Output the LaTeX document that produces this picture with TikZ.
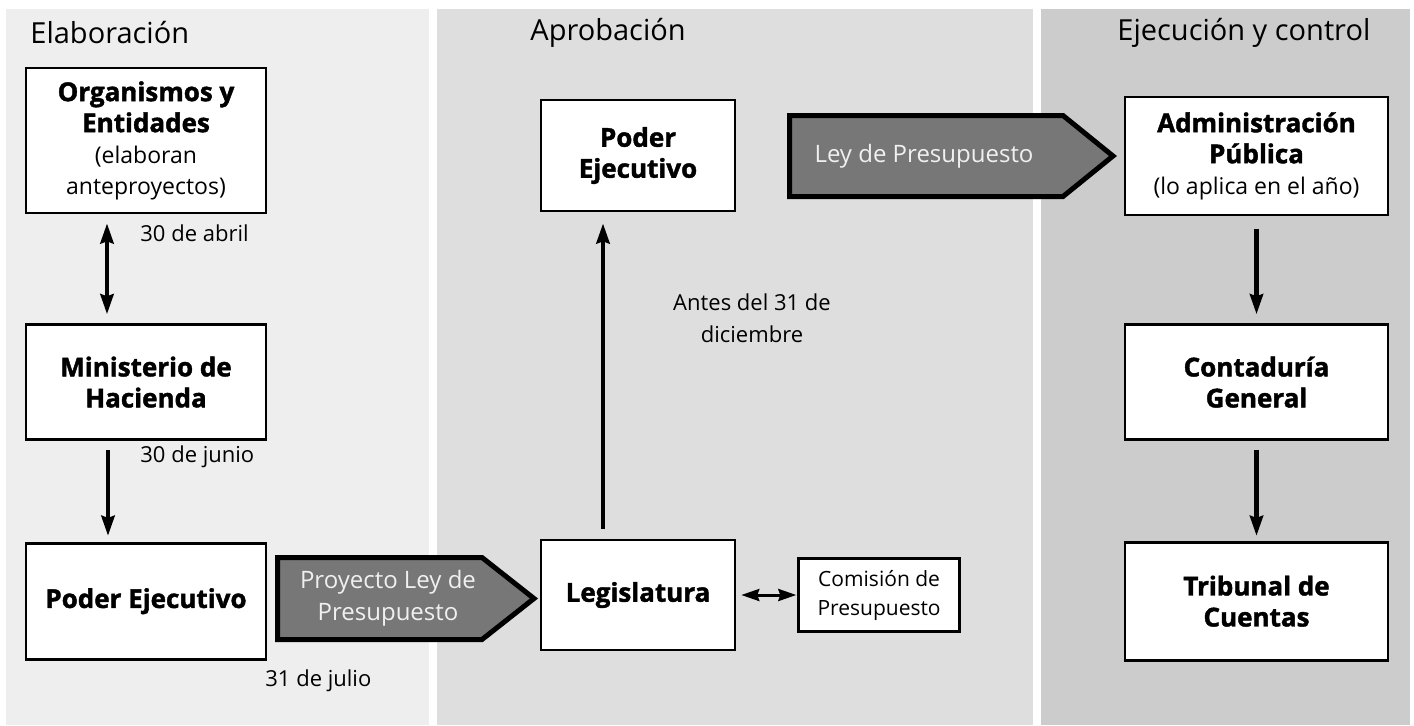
\documentclass[tikz,border=0pt]{standalone}
\usepackage{fontspec}
\setmainfont{Open Sans}[BoldFeatures={FakeBold=1.6}]
\usetikzlibrary{positioning,arrows.meta}
\definecolor{panelA}{HTML}{EEEEEE}
\definecolor{panelB}{HTML}{DEDEDE}
\definecolor{panelC}{HTML}{CCCCCC}
\definecolor{docfill}{HTML}{777777}
\newcommand{\boxhead}[1]{{\fontsize{13}{15.5}\selectfont\bfseries #1}}
\tikzset{main node/.style={rectangle,draw,line width=1.3pt,fill=white,align=center,inner sep=2pt,font=\fontsize{11.5}{15.5}\selectfont}}
\tikzset{doc shape/.style={draw,line width=2.5pt,fill=docfill}}
\tikzset{doc node/.style={inner sep=0pt,text=white!94!black,align=center,font=\fontsize{12}{16}\selectfont}}
\tikzset{date node/.style={inner sep=0pt,align=center,font=\fontsize{11}{16}\selectfont}}
\tikzset{title node/.style={inner sep=0pt,anchor=west,font=\fontsize{14.5}{17}\selectfont}}
\tikzset{flow/.style={line width=2.4pt,-{Stealth[length=10pt,width=6.5pt,inset=1pt]}}}

\begin{document}
\begin{tikzpicture}[x=0.5pt,y=-0.5pt]
    \useasboundingbox (0,0) rectangle (1414,725);
    % three stages
    \fill[panelA] (6,9) rectangle (429,725);
    \fill[panelB] (437,9) rectangle (1033,725);
    \fill[panelC] (1041,9) rectangle (1410,725);
    \node[title node] (t1) at (30,33) {Elaboración};
    \node[title node] (t2) at (530,33) {Aprobación};
    \node[title node] (t3) at (1117,33) {Ejecución y control};

    % Elaboracion
    \node[main node,minimum width=120pt,minimum height=72.5pt] (org) at (146,140.5) {\boxhead{Organismos y}\\\boxhead{Entidades}\\(elaboran\\anteproyectos)};
    \node[main node,minimum width=120pt,minimum height=57.5pt] (min) [below = 54.5pt of org] {\boxhead{Ministerio de}\\\boxhead{Hacienda}};
    \node[main node,minimum width=120pt,minimum height=58pt] (pe1) [below = 50.5pt of min] {\boxhead{Poder Ejecutivo}};
    \filldraw[doc shape] (277.5,557.5) -- (482,557.5) -- (534,598.5) -- (482,639.5) -- (277.5,639.5) -- cycle;
    \node[doc node] (proy) at (388,598.5) {Proyecto Ley de\\Presupuesto};

    % Aprobacion
    \node[main node,minimum width=97pt,minimum height=55.5pt] (pe2) at (638,155.5) {\boxhead{Poder}\\\boxhead{Ejecutivo}};
    \node[main node,minimum width=97pt,minimum height=55pt] (leg) at (638,595) {\boxhead{Legislatura}};
    \node[main node,minimum width=80.5pt,minimum height=36.5pt,font=\fontsize{10.5}{14.5}\selectfont] (com) [right = 30.5pt of leg] {Comisión de\\Presupuesto};
    \filldraw[doc shape] (789.5,115.5) -- (1063,115.5) -- (1113,156) -- (1063,196.5) -- (789.5,196.5) -- cycle;
    \node[doc node] (ley) at (924,156) {Ley de Presupuesto};

    % Ejecucion y control
    \node[main node,minimum width=131.5pt,minimum height=59pt] (adm) at (1256.5,156) {\boxhead{Administración}\\\boxhead{Pública}\\(lo aplica en el año)};
    \node[main node,minimum width=131.5pt,minimum height=57.5pt] (con) [below = 53.5pt of adm] {\boxhead{Contaduría}\\\boxhead{General}};
    \node[main node,minimum width=131.5pt,minimum height=59pt] (tri) [below = 50pt of con] {\boxhead{Tribunal de}\\\boxhead{Cuentas}};

    % dates
    \node[date node,anchor=west] (d1) at (140,233) {30 de abril};
    \node[date node,anchor=west] (d2) at (140,457) {30 de junio};
    \node[date node,anchor=west] (d3) at (265,681) {31 de julio};
    \node[date node] (d4) at (752,318) {Antes del 31 de\\diciembre};

    \draw[flow,{Stealth[length=10pt,width=6.5pt,inset=1pt]}-{Stealth[length=10pt,width=6.5pt,inset=1pt]}] ([xshift=-19.5pt,yshift=-4.5pt]org.south) -- ([xshift=-19.5pt,yshift=4.5pt]min.north);
    \draw[flow] ([xshift=-19pt,yshift=-4.5pt]min.south) -- ([xshift=-19pt,yshift=3pt]pe1.north);
    \draw[flow] ([xshift=-17.5pt,yshift=5pt]leg.north) -- ([xshift=-17.5pt,yshift=-5.5pt]pe2.south);
    \draw[line width=1.5pt,{Stealth[length=9pt,width=6pt,inset=1pt]}-{Stealth[length=9pt,width=6pt,inset=1pt]}] ([xshift=2.5pt]leg.east) -- ([xshift=-0.5pt]com.west);
    \draw[flow] ([yshift=-6.5pt]adm.south) -- ([yshift=4.5pt]con.north);
    \draw[flow] ([yshift=-4.5pt]con.south) -- ([yshift=2.5pt]tri.north);
\end{tikzpicture}
\end{document}
